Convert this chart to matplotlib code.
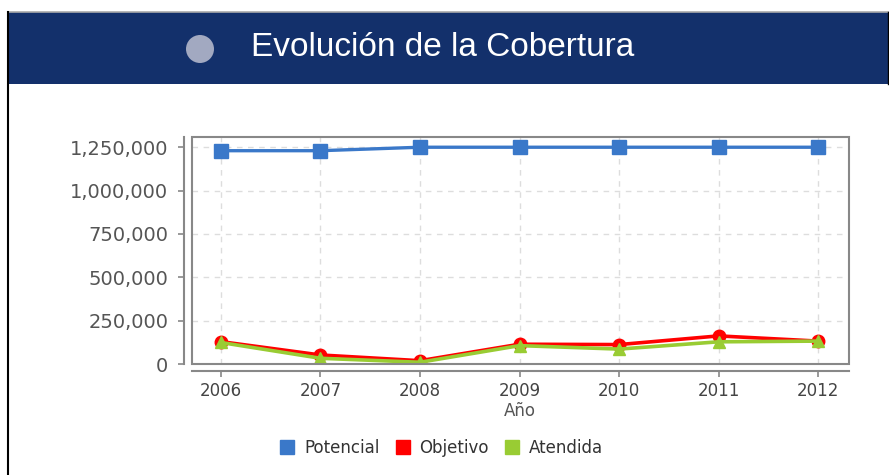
import matplotlib
matplotlib.use("Agg")
import matplotlib.pyplot as plt
from matplotlib.patches import Rectangle, Ellipse
from matplotlib.lines import Line2D
from matplotlib.ticker import FuncFormatter

# data
years = [2006, 2007, 2008, 2009, 2010, 2011, 2012]
potencial = [1230000, 1230000, 1250000, 1250000, 1250000, 1250000, 1250000]
objetivo = [129000, 52000, 19000, 114000, 112000, 162000, 132000]
atendida = [124000, 33000, 10000, 106000, 86000, 128000, 132000]
yticks = [0, 250000, 500000, 750000, 1000000, 1250000]

title = "Evolución de la Cobertura"
xlabel = "Año"
series_names = ["Potencial", "Objetivo", "Atendida"]
colors = ["#3A78C9", "#FF0000", "#99CC33"]

W, H = 889, 475
fig = plt.figure(figsize=(W / 100, H / 100), dpi=100)

def fx(px):
    return px / W

def fy(py):
    return 1 - py / H

# header band
fig.patches.append(Rectangle((fx(8), fy(84)), 1 - fx(8), fy(12) - fy(84),
                             transform=fig.transFigure, facecolor="#13306B",
                             edgecolor="none", zorder=0))
fig.lines.append(Line2D([fx(8), 1], [fy(12), fy(12)], transform=fig.transFigure,
                        color="#AAAAAA", lw=1.2))
fig.lines.append(Line2D([fx(8), fx(8)], [0, fy(12)], transform=fig.transFigure,
                        color="black", lw=1.5))
fig.lines.append(Line2D([fx(888), fx(888)], [fy(84), fy(12)], transform=fig.transFigure,
                        color="black", lw=1.0))
fig.patches.append(Ellipse((fx(200), fy(49)), 28 / W, 28 / H, transform=fig.transFigure,
                           facecolor="#A2A9C1", edgecolor="none"))
fig.text(fx(251), fy(48), title, color="white", fontsize=24,
         family="Liberation Sans", va="center", ha="left")

# plot area
ax = fig.add_axes([fx(192), fy(364), fx(849) - fx(192), fy(137) - fy(364)])
ax.plot(years, potencial, color=colors[0], lw=2.4, marker="s", ms=10, zorder=3)
ax.plot(years, objetivo, color=colors[1], lw=2.6, marker="o", ms=9, zorder=3)
ax.plot(years, atendida, color=colors[2], lw=2.6, marker="^", ms=9, zorder=4)

ax.set_xlim(2005.71, 2012.31)
ax.set_ylim(0, 1309000)
ax.set_xticks(years)
ax.set_yticks(yticks)
ax.yaxis.set_major_formatter(FuncFormatter(lambda v, p: f"{v:,.0f}"))
ax.grid(True, color="#DDDDDD", ls=(0, (4, 4)), lw=1)
ax.set_axisbelow(True)

for s in ["top", "right"]:
    ax.spines[s].set_visible(False)
ax.spines["left"].set_position(("outward", 5.8))
ax.spines["bottom"].set_position(("outward", 5.0))
for s in ["left", "bottom"]:
    ax.spines[s].set_color("#888888")
    ax.spines[s].set_linewidth(1.5)
ax.add_patch(Rectangle((0, 0), 1, 1, transform=ax.transAxes, fill=False,
                       edgecolor="#888888", lw=1.5, clip_on=False, zorder=5))

ax.tick_params(axis="y", length=4.3, width=1.2, color="#888888", pad=7,
               labelsize=14, labelcolor="#555555")
ax.tick_params(axis="x", length=4, width=1.2, color="#888888", pad=4,
               labelsize=12, labelcolor="#444444")

fig.text(fx(520), fy(411), xlabel, fontsize=12, color="#555555",
         ha="center", va="center")

handles = [Line2D([], [], color=c, marker="s", ls="none", ms=10) for c in colors]
fig.legend(handles, series_names, loc="center", bbox_to_anchor=(fx(441), fy(448)),
           ncol=3, frameon=False, fontsize=12, handletextpad=0.5,
           columnspacing=0.9, handlelength=1.0, labelcolor="#333333")

fig.savefig("out.png", dpi=100)
